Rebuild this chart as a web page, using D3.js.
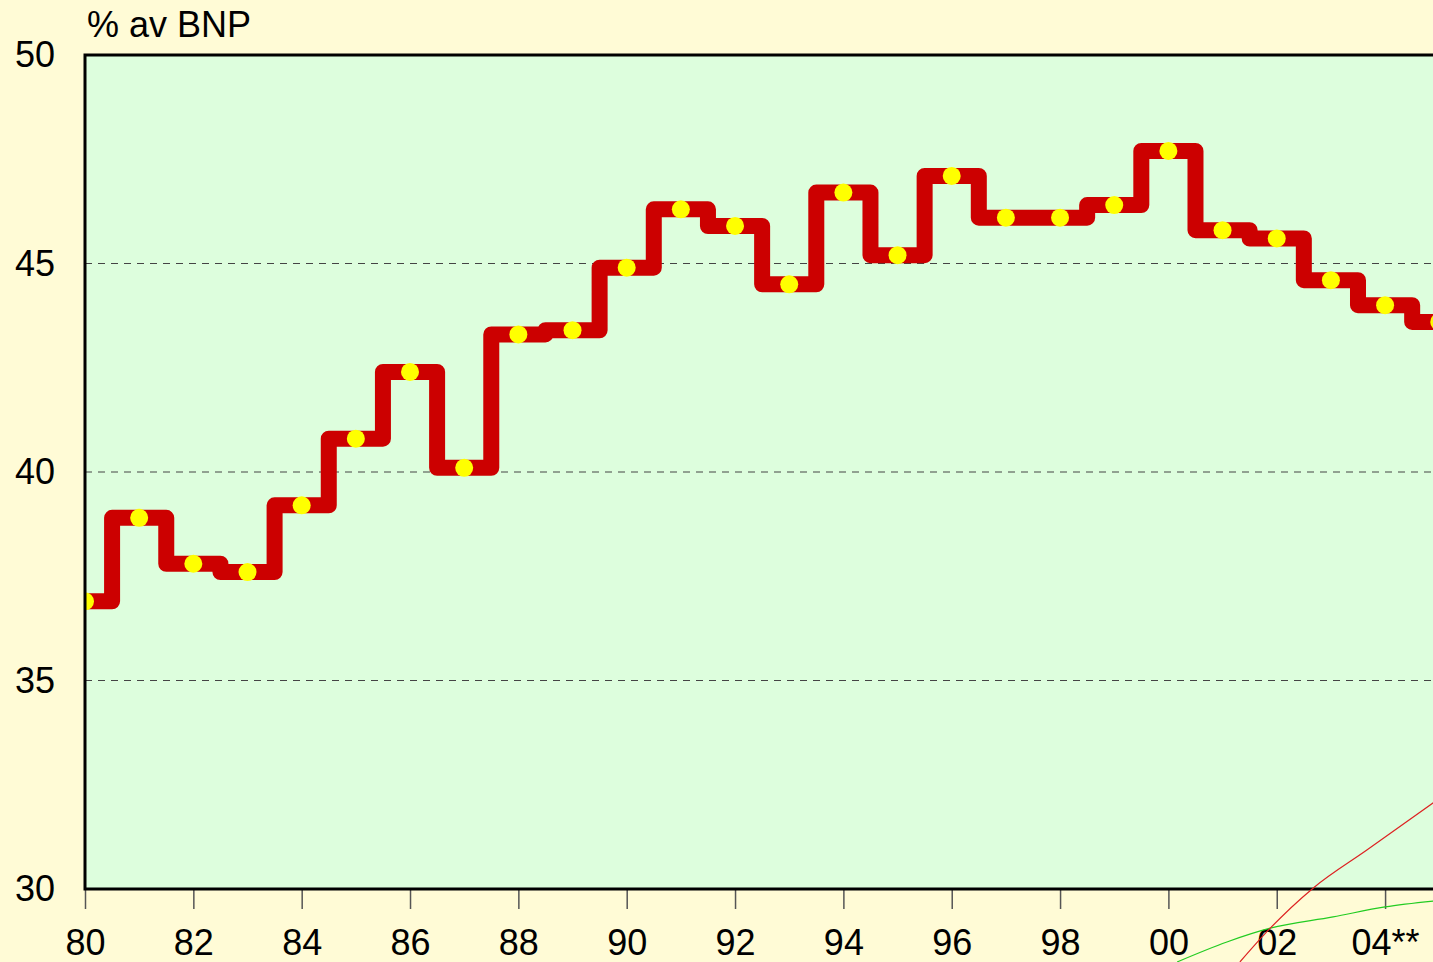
<!DOCTYPE html>
<html>
<head>
<meta charset="utf-8">
<script src="https://cdn.jsdelivr.net/npm/d3@7"></script>
<style>
  body { margin: 0; background: #fffbd6; overflow: hidden; }
  text { font-family: "Liberation Sans", Arial, sans-serif; }
</style>
</head>
<body>
<div id="chart"></div>
<script>
// yearly values, % of GDP
const years = [1980, 1981, 1982, 1983, 1984, 1985, 1986, 1987, 1988, 1989, 1990, 1991, 1992,
    1993, 1994, 1995, 1996, 1997, 1998, 1999, 2000, 2001, 2002, 2003, 2004, 2005];
const values = [36.9, 38.9, 37.8, 37.6, 39.2, 40.8, 42.4, 40.1, 43.3, 43.4, 44.9, 46.3, 45.9,
    44.5, 46.7, 45.2, 47.1, 46.1, 46.1, 46.4, 47.7, 45.8, 45.6, 44.6, 44.0, 43.6];

// tick labels
const xTicks = [1980, 1982, 1984, 1986, 1988, 1990, 1992, 1994, 1996, 1998, 2000, 2002, 2004];
const xTickLabels = ["80", "82", "84", "86", "88", "90", "92", "94", "96", "98", "00", "02", "04**"];
const yTicks = [30, 35, 40, 45, 50];
const yGrid = [35, 40, 45];

// the two stray thin curves in the lower right corner
const redCurve = [[2001.32, 28.25], [2001.88, 29.06], [2002.67, 30.02], [2003.67, 30.94], [2004.89, 32.07]];
const greenCurve = [[2000.16, 28.25], [2001.08, 28.73], [2001.88, 29.06], [2003.04, 29.33], [2004.0, 29.57], [2004.89, 29.71]];

const width = 1433, height = 962;
const margin = { top: 55, left: 85, bottom: 73 };
const plotRight = 1460;

const svg = d3.select("#chart")
    .append("svg")
    .attr("width", width)
    .attr("height", height);

svg.append("rect")
    .attr("width", width)
    .attr("height", height)
    .attr("fill", "#fffbd6");

const x = d3.scaleLinear()
    .domain([1980, 2005])
    .range([margin.left, margin.left + 25 * 54.17]);

const y = d3.scaleLinear()
    .domain([30, 50])
    .range([height - margin.bottom, margin.top]);

// plot background
svg.append("rect")
    .attr("x", margin.left)
    .attr("y", margin.top)
    .attr("width", plotRight - margin.left)
    .attr("height", y(30) - margin.top)
    .attr("fill", "#ddfedd");

svg.append("clipPath")
    .attr("id", "plotclip")
    .append("rect")
    .attr("x", margin.left)
    .attr("y", margin.top)
    .attr("width", plotRight - margin.left)
    .attr("height", y(30) - margin.top);

// dashed gridlines
svg.append("g")
    .selectAll("line")
    .data(yGrid)
    .join("line")
    .attr("x1", margin.left)
    .attr("x2", plotRight)
    .attr("y1", d => y(d))
    .attr("y2", d => y(d))
    .attr("stroke", "#444")
    .attr("stroke-width", 1)
    .attr("stroke-dasharray", "7,6");

const data = years.map((d, i) => ({ x: d, y: values[i] }));

// step line
svg.append("path")
    .datum(data)
    .attr("clip-path", "url(#plotclip)")
    .attr("fill", "none")
    .attr("stroke", "#cc0000")
    .attr("stroke-width", 16)
    .attr("stroke-linejoin", "round")
    .attr("stroke-linecap", "round")
    .attr("d", d3.line()
        .curve(d3.curveStep)
        .x(d => x(d.x))
        .y(d => y(d.y)));

// yellow markers
svg.append("g")
    .attr("clip-path", "url(#plotclip)")
    .selectAll("circle")
    .data(data)
    .join("circle")
    .attr("cx", d => x(d.x))
    .attr("cy", d => y(d.y))
    .attr("r", 9)
    .attr("fill", "#ffff00");

// x axis ticks and labels
const xAxis = svg.append("g")
    .attr("transform", "translate(0," + y(30) + ")")
    .call(d3.axisBottom(x)
        .tickValues(xTicks)
        .tickSize(20)
        .tickPadding(20)
        .tickFormat((d, i) => xTickLabels[i]));
xAxis.select(".domain").remove();
xAxis.selectAll(".tick line").attr("stroke", "#555").attr("stroke-width", 1.5);
xAxis.selectAll(".tick text")
    .attr("font-size", 36)
    .attr("fill", "#000")
    .style("font-family", "'Liberation Sans', Arial, sans-serif");

// y axis labels
const yAxis = svg.append("g")
    .attr("transform", "translate(" + margin.left + ",0)")
    .call(d3.axisLeft(y)
        .tickValues(yTicks)
        .tickSize(0)
        .tickPadding(30)
        .tickFormat(d3.format("d")));
yAxis.select(".domain").remove();
yAxis.selectAll(".tick text")
    .attr("font-size", 36)
    .attr("fill", "#000")
    .style("font-family", "'Liberation Sans', Arial, sans-serif");

// plot frame
svg.append("path")
    .attr("d", "M" + plotRight + "," + margin.top + "H" + margin.left + "V" + y(30) + "H" + plotRight)
    .attr("fill", "none")
    .attr("stroke", "#000")
    .attr("stroke-width", 3);

// thin stray curves
const curveLine = d3.line()
    .curve(d3.curveMonotoneX)
    .x(d => x(d[0]))
    .y(d => y(d[1]));

svg.append("path")
    .datum(greenCurve)
    .attr("fill", "none")
    .attr("stroke", "#22cc22")
    .attr("stroke-width", 1.2)
    .attr("d", curveLine);

svg.append("path")
    .datum(redCurve)
    .attr("fill", "none")
    .attr("stroke", "#dd2222")
    .attr("stroke-width", 1.2)
    .attr("d", curveLine);

// unit label
svg.append("text")
    .attr("x", 87)
    .attr("y", 37)
    .attr("font-size", 36)
    .attr("fill", "#000")
    .text("% av BNP");
</script>
</body>
</html>
